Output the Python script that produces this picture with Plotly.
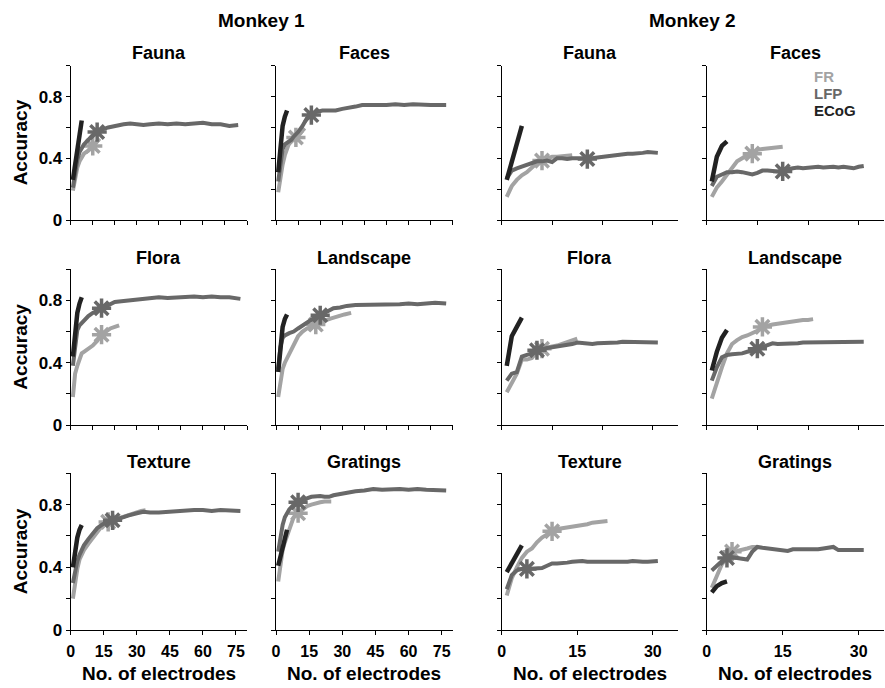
import plotly.graph_objects as go
from plotly.subplots import make_subplots

# ---------------------------------------------------------------------------
# Decoding accuracy vs. number of electrodes (FR, LFP, ECoG) per category
# ---------------------------------------------------------------------------
categories = ["Fauna", "Faces", "Flora", "Landscape", "Texture", "Gratings"]
monkeys = ["Monkey 1", "Monkey 2"]
signals = ["FR", "LFP", "ECoG"]

ecog_x = [1, 2, 3, 4, 5]
ecog_x_m2 = [1, 2, 3, 4]
m2_lfp_x = list(range(1, 32))

# ----- Monkey 1 -----
m1_fauna_ecog = [0.26, 0.355, 0.45, 0.55, 0.645]
m1_fauna_lfp_x = [1, 2, 3, 4, 5, 6, 8, 10, 12, 14, 17, 20, 24, 27, 30, 33, 36, 40, 44, 48, 52, 56, 60, 64, 68, 72, 76]
m1_fauna_lfp = [0.21, 0.32, 0.39, 0.44, 0.47, 0.49, 0.52, 0.55, 0.57, 0.585, 0.60, 0.61, 0.62, 0.625, 0.62, 0.615,
                0.62, 0.625, 0.62, 0.625, 0.62, 0.625, 0.63, 0.62, 0.62, 0.61, 0.615]
m1_fauna_fr_x = [1, 2, 3, 4, 5, 6, 8, 10, 11, 13]
m1_fauna_fr = [0.19, 0.28, 0.34, 0.38, 0.41, 0.43, 0.45, 0.48, 0.49, 0.53]

m1_faces_ecog = [0.31, 0.49, 0.61, 0.67, 0.71]
m1_faces_lfp_x = [1, 2, 3, 4, 5, 6, 7, 8, 10, 12, 13, 14, 16, 18, 21, 24, 27, 30, 33, 36, 39, 42, 46, 50, 54, 58,
                  62, 66, 70, 74, 77]
m1_faces_lfp = [0.25, 0.38, 0.46, 0.49, 0.50, 0.51, 0.52, 0.54, 0.57, 0.61, 0.64, 0.66, 0.68, 0.70, 0.71, 0.71, 0.71,
                0.72, 0.725, 0.735, 0.745, 0.745, 0.74, 0.745, 0.75, 0.745, 0.75, 0.745, 0.745, 0.745, 0.745]
m1_faces_fr_x = [1, 2, 3, 4, 5, 6, 7, 8, 9, 10, 11, 12, 13]
m1_faces_fr = [0.18, 0.28, 0.36, 0.42, 0.47, 0.50, 0.52, 0.53, 0.535, 0.55, 0.56, 0.58, 0.595]

m1_flora_ecog = [0.44, 0.62, 0.72, 0.78, 0.82]
m1_flora_lfp_x = [1, 2, 3, 4, 6, 8, 10, 12, 14, 16, 18, 20, 23, 26, 29, 32, 36, 40, 44, 48, 52, 56, 60, 64, 68, 72, 77]
m1_flora_lfp = [0.38, 0.52, 0.61, 0.64, 0.67, 0.70, 0.72, 0.735, 0.75, 0.765, 0.78, 0.79, 0.795, 0.80, 0.805, 0.81,
                0.815, 0.82, 0.815, 0.82, 0.82, 0.825, 0.82, 0.825, 0.82, 0.82, 0.81]
m1_flora_fr_x = [1, 2, 3, 4, 5, 6, 8, 10, 12, 14, 16, 18, 20, 22]
m1_flora_fr = [0.18, 0.33, 0.38, 0.42, 0.46, 0.47, 0.49, 0.51, 0.54, 0.58, 0.60, 0.62, 0.63, 0.64]

m1_landscape_ecog = [0.34, 0.53, 0.63, 0.68, 0.71]
m1_landscape_lfp_x = [1, 2, 3, 4, 6, 8, 10, 12, 14, 16, 18, 20, 22, 24, 26, 29, 32, 36, 40, 44, 48, 52, 56, 60, 64,
                      68, 72, 77]
m1_landscape_lfp = [0.36, 0.50, 0.56, 0.575, 0.59, 0.60, 0.62, 0.64, 0.66, 0.68, 0.695, 0.705, 0.72, 0.74, 0.75,
                    0.755, 0.765, 0.77, 0.77, 0.775, 0.77, 0.775, 0.775, 0.78, 0.775, 0.78, 0.785, 0.78]
m1_landscape_fr_x = [1, 2, 3, 4, 6, 8, 10, 12, 14, 16, 18, 20, 22, 25, 28, 31, 34]
m1_landscape_fr = [0.18, 0.28, 0.36, 0.40, 0.46, 0.52, 0.57, 0.60, 0.62, 0.63, 0.645, 0.66, 0.67, 0.685, 0.70, 0.71,
                   0.72]

m1_texture_ecog = [0.40, 0.52, 0.59, 0.64, 0.67]
m1_texture_lfp_x = [1, 2, 3, 4, 5, 6, 8, 10, 12, 14, 16, 19, 22, 24, 26, 28, 30, 33, 36, 40, 44, 48, 52, 56, 60, 64,
                    68, 72, 77]
m1_texture_lfp = [0.30, 0.38, 0.44, 0.48, 0.51, 0.54, 0.58, 0.62, 0.65, 0.67, 0.685, 0.70, 0.71, 0.72, 0.73, 0.74,
                  0.745, 0.755, 0.75, 0.75, 0.755, 0.76, 0.76, 0.765, 0.765, 0.76, 0.765, 0.765, 0.76]
m1_texture_fr_x = [1, 2, 3, 4, 6, 8, 10, 12, 14, 17, 20, 23, 26, 29, 32, 34]
m1_texture_fr = [0.20, 0.31, 0.39, 0.45, 0.51, 0.55, 0.59, 0.63, 0.66, 0.69, 0.705, 0.72, 0.73, 0.745, 0.76, 0.765]

m1_gratings_ecog = [0.41, 0.47, 0.53, 0.59, 0.64]
m1_gratings_lfp_x = [1, 2, 3, 4, 5, 6, 8, 10, 12, 14, 16, 18, 20, 22, 24, 26, 28, 30, 33, 36, 40, 44, 48, 52, 56, 60,
                     64, 68, 72, 77]
m1_gratings_lfp = [0.50, 0.60, 0.67, 0.72, 0.75, 0.77, 0.80, 0.815, 0.83, 0.84, 0.85, 0.855, 0.855, 0.85, 0.85, 0.86,
                   0.865, 0.87, 0.88, 0.885, 0.89, 0.90, 0.895, 0.90, 0.90, 0.895, 0.90, 0.895, 0.895, 0.89]
m1_gratings_fr_x = [1, 2, 3, 4, 5, 6, 7, 8, 10, 12, 14, 16, 18, 20, 22, 25]
m1_gratings_fr = [0.31, 0.42, 0.51, 0.56, 0.60, 0.63, 0.67, 0.72, 0.745, 0.765, 0.79, 0.80, 0.81, 0.815, 0.82, 0.82]

# ----- Monkey 2 -----
m2_fauna_ecog = [0.26, 0.38, 0.50, 0.61]
m2_fauna_lfp = [0.27, 0.32, 0.335, 0.345, 0.355, 0.37, 0.38, 0.38, 0.385, 0.375, 0.40, 0.40, 0.395, 0.40, 0.40, 0.395,
                0.395, 0.40, 0.405, 0.41, 0.41, 0.42, 0.425, 0.425, 0.43, 0.43, 0.43, 0.435, 0.44, 0.44, 0.435]
m2_fauna_fr = [0.15, 0.22, 0.26, 0.29, 0.31, 0.34, 0.37, 0.385, 0.40, 0.41, 0.41, 0.415, 0.415, 0.42]

m2_faces_ecog = [0.25, 0.41, 0.48, 0.51]
m2_faces_lfp = [0.22, 0.28, 0.295, 0.31, 0.31, 0.315, 0.31, 0.30, 0.295, 0.305, 0.32, 0.32, 0.315, 0.315, 0.315, 0.33,
                0.335, 0.34, 0.335, 0.34, 0.345, 0.345, 0.34, 0.345, 0.345, 0.34, 0.345, 0.34, 0.335, 0.345, 0.35]
m2_faces_fr = [0.15, 0.21, 0.25, 0.29, 0.34, 0.38, 0.40, 0.42, 0.43, 0.455, 0.46, 0.465, 0.47, 0.475, 0.475]

m2_flora_ecog = [0.38, 0.57, 0.63, 0.69]
m2_flora_lfp = [0.285, 0.33, 0.34, 0.44, 0.45, 0.46, 0.48, 0.49, 0.495, 0.50, 0.505, 0.505, 0.51, 0.52, 0.53, 0.525,
                0.52, 0.52, 0.525, 0.525, 0.525, 0.53, 0.53, 0.535, 0.535, 0.53, 0.53, 0.535, 0.53, 0.53, 0.53]
m2_flora_fr = [0.21, 0.27, 0.33, 0.42, 0.42, 0.43, 0.47, 0.49, 0.50, 0.505, 0.51, 0.52, 0.535, 0.545, 0.555]

m2_landscape_ecog = [0.35, 0.47, 0.56, 0.61]
m2_landscape_lfp = [0.285, 0.37, 0.435, 0.45, 0.455, 0.455, 0.46, 0.47, 0.475, 0.49, 0.50, 0.515, 0.525, 0.52, 0.52,
                    0.52, 0.525, 0.525, 0.53, 0.53, 0.53, 0.53, 0.53, 0.53, 0.53, 0.53, 0.535, 0.53, 0.53, 0.53, 0.535]
m2_landscape_fr = [0.17, 0.28, 0.37, 0.46, 0.52, 0.545, 0.565, 0.575, 0.59, 0.605, 0.63, 0.64, 0.645, 0.65, 0.655,
                   0.665, 0.67, 0.67, 0.675, 0.675, 0.68]

m2_texture_ecog = [0.37, 0.43, 0.49, 0.54]
m2_texture_lfp = [0.26, 0.35, 0.38, 0.39, 0.39, 0.39, 0.39, 0.395, 0.41, 0.425, 0.425, 0.425, 0.43, 0.435, 0.44, 0.44,
                  0.435, 0.435, 0.43, 0.43, 0.43, 0.435, 0.435, 0.435, 0.435, 0.44, 0.435, 0.435, 0.435, 0.44, 0.44]
m2_texture_fr = [0.22, 0.33, 0.40, 0.46, 0.50, 0.52, 0.56, 0.59, 0.61, 0.63, 0.645, 0.65, 0.655, 0.655, 0.66, 0.665,
                 0.675, 0.685, 0.69, 0.695, 0.695]

m2_gratings_ecog = [0.24, 0.28, 0.30, 0.31]
m2_gratings_lfp = [0.38, 0.41, 0.44, 0.46, 0.465, 0.46, 0.455, 0.45, 0.50, 0.53, 0.525, 0.52, 0.52, 0.515, 0.51, 0.505,
                   0.515, 0.515, 0.51, 0.515, 0.515, 0.515, 0.52, 0.525, 0.53, 0.51, 0.51, 0.51, 0.505, 0.51, 0.51]
m2_gratings_fr = [0.27, 0.35, 0.42, 0.46, 0.50, 0.505, 0.51, 0.52, 0.53, 0.53]

# Electrode count at which each curve carries its asterisk: (FR, LFP)
m1_star_x = {"Fauna": (10, 12), "Faces": (9, 16), "Flora": (14, 14),
             "Landscape": (18, 20), "Texture": (17, 19), "Gratings": (10, 10)}
m2_star_x = {"Fauna": (8, 17), "Faces": (9, 15), "Flora": (8, 7),
             "Landscape": (11, 10), "Texture": (10, 5), "Gratings": (5, 4)}

# x-axis settings per monkey
m1_xrange, m1_tick_top, m1_tick_bottom = [0, 80], 10, 15
m2_xrange, m2_tick_top, m2_tick_bottom = [0, 35], 10, 15
y_tickvals = [0, 0.2, 0.4, 0.6, 0.8, 1.0]
y_ticktext = ["0", "", "0.4", "", "0.8", ""]

# ---------------------------------------------------------------------------
colors = {"FR": "#a3a3a3", "LFP": "#686868", "ECoG": "#222222"}
FONT = "Liberation Sans, Arial, sans-serif"
W, H = 885, 688

panels = {
    ("Monkey 1", "Fauna"): (ecog_x, m1_fauna_ecog, m1_fauna_lfp_x, m1_fauna_lfp, m1_fauna_fr_x, m1_fauna_fr),
    ("Monkey 1", "Faces"): (ecog_x, m1_faces_ecog, m1_faces_lfp_x, m1_faces_lfp, m1_faces_fr_x, m1_faces_fr),
    ("Monkey 1", "Flora"): (ecog_x, m1_flora_ecog, m1_flora_lfp_x, m1_flora_lfp, m1_flora_fr_x, m1_flora_fr),
    ("Monkey 1", "Landscape"): (ecog_x, m1_landscape_ecog, m1_landscape_lfp_x, m1_landscape_lfp,
                                m1_landscape_fr_x, m1_landscape_fr),
    ("Monkey 1", "Texture"): (ecog_x, m1_texture_ecog, m1_texture_lfp_x, m1_texture_lfp,
                              m1_texture_fr_x, m1_texture_fr),
    ("Monkey 1", "Gratings"): (ecog_x, m1_gratings_ecog, m1_gratings_lfp_x, m1_gratings_lfp,
                               m1_gratings_fr_x, m1_gratings_fr),
    ("Monkey 2", "Fauna"): (ecog_x_m2, m2_fauna_ecog, m2_lfp_x, m2_fauna_lfp,
                            list(range(1, len(m2_fauna_fr) + 1)), m2_fauna_fr),
    ("Monkey 2", "Faces"): (ecog_x_m2, m2_faces_ecog, m2_lfp_x, m2_faces_lfp,
                            list(range(1, len(m2_faces_fr) + 1)), m2_faces_fr),
    ("Monkey 2", "Flora"): (ecog_x_m2, m2_flora_ecog, m2_lfp_x, m2_flora_lfp,
                            list(range(1, len(m2_flora_fr) + 1)), m2_flora_fr),
    ("Monkey 2", "Landscape"): (ecog_x_m2, m2_landscape_ecog, m2_lfp_x, m2_landscape_lfp,
                                list(range(1, len(m2_landscape_fr) + 1)), m2_landscape_fr),
    ("Monkey 2", "Texture"): (ecog_x_m2, m2_texture_ecog, m2_lfp_x, m2_texture_lfp,
                              list(range(1, len(m2_texture_fr) + 1)), m2_texture_fr),
    ("Monkey 2", "Gratings"): (ecog_x_m2, m2_gratings_ecog, m2_lfp_x, m2_gratings_lfp,
                               list(range(1, len(m2_gratings_fr) + 1)), m2_gratings_fr),
}

# panel placement in pixels
col_px = [(70.7, 247.0), (276.0, 452.8), (501.7, 678.0), (706.7, 884.0)]
row_px = [(65.7, 220.0), (269.3, 425.0), (473.3, 630.0)]


def px_x(v):
    return v / W


def px_y(v):
    return 1 - v / H


fig = make_subplots(rows=3, cols=4)


def star_trace(xs, ys, sx, color, row, col):
    sy = ys[xs.index(sx)]
    fig.add_trace(go.Scatter(x=[sx], y=[sy], mode="markers", showlegend=False, hoverinfo="skip",
                             marker=dict(symbol="circle", size=8, color=color, line=dict(width=0))),
                  row=row, col=col)
    fig.add_trace(go.Scatter(x=[sx], y=[sy], mode="markers", showlegend=False, hoverinfo="skip",
                             marker=dict(symbol="asterisk-open", size=16, color=color,
                                         line=dict(width=3.5, color=color))),
                  row=row, col=col)


for mi, monkey in enumerate(monkeys):
    for ci, cat in enumerate(categories):
        row = ci // 2 + 1
        col = mi * 2 + ci % 2 + 1
        ex, ey, lx, ly, fx, fy = panels[(monkey, cat)]
        fr_sx, lfp_sx = (m1_star_x if mi == 0 else m2_star_x)[cat]

        fig.add_trace(go.Scatter(x=fx, y=fy, mode="lines", showlegend=False, hoverinfo="skip",
                                 line=dict(color=colors["FR"], width=4)), row=row, col=col)
        star_trace(fx, fy, fr_sx, colors["FR"], row, col)
        fig.add_trace(go.Scatter(x=lx, y=ly, mode="lines", showlegend=False, hoverinfo="skip",
                                 line=dict(color=colors["LFP"], width=4)), row=row, col=col)
        star_trace(lx, ly, lfp_sx, colors["LFP"], row, col)
        fig.add_trace(go.Scatter(x=ex, y=ey, mode="lines", showlegend=False, hoverinfo="skip",
                                 line=dict(color=colors["ECoG"], width=4.5)), row=row, col=col)

        # axes
        xr = m1_xrange if mi == 0 else m2_xrange
        bottom = row == 3
        dt = (m1_tick_bottom if mi == 0 else m2_tick_bottom) if bottom else \
            (m1_tick_top if mi == 0 else m2_tick_top)
        x0, x1 = col_px[col - 1]
        y0, y1 = row_px[row - 1]
        fig.update_xaxes(domain=[px_x(x0), px_x(x1)], range=xr, tick0=0, dtick=dt,
                         showticklabels=bottom, ticks="outside", ticklen=4, tickwidth=1,
                         tickcolor="black", showline=True, linecolor="black", linewidth=1,
                         showgrid=False, zeroline=False, ticklabelstandoff=3, automargin=False,
                         tickfont=dict(family=FONT, size=16, color="black", weight="bold"),
                         row=row, col=col)
        fig.update_yaxes(domain=[px_y(y1), px_y(y0)], range=[0, 1], tickvals=y_tickvals,
                         ticktext=y_ticktext, showticklabels=(col == 1), ticks="outside",
                         ticklen=4, tickwidth=1, tickcolor="black", showline=True,
                         linecolor="black", linewidth=1, showgrid=False, zeroline=False,
                         automargin=False,
                         tickfont=dict(family=FONT, size=17, color="black", weight="bold"),
                         row=row, col=col)

annotations = []


def text(s, x, y, size, color="black", xanchor="center", angle=0):
    annotations.append(dict(text=s, x=px_x(x), y=px_y(y), xref="paper", yref="paper",
                            showarrow=False, xanchor=xanchor, yanchor="middle", textangle=angle,
                            font=dict(family=FONT, size=size, color=color, weight="bold")))


# monkey headings
text(monkeys[0], (col_px[0][0] + col_px[1][1]) / 2, 20, 19)
text(monkeys[1], (col_px[2][0] + col_px[3][1]) / 2, 20, 19)

# panel titles
title_y = [53, 258, 462]
for mi in range(2):
    for ci, cat in enumerate(categories):
        row = ci // 2
        col = mi * 2 + ci % 2
        text(cat, sum(col_px[col]) / 2, title_y[row], 18)

# axis titles
for r in range(3):
    text("Accuracy", 20.5, sum(row_px[r]) / 2, 19, angle=-90)
for c in range(4):
    text("No. of electrodes", sum(col_px[c]) / 2, 673, 19)

# signal key
for name, ypos in zip(signals, [77, 93, 110]):
    text(name, 811.7, ypos, 15, color=colors[name], xanchor="left")

fig.update_layout(width=W, height=H, margin=dict(l=0, r=0, t=0, b=0),
                  paper_bgcolor="white", plot_bgcolor="white", showlegend=False,
                  annotations=annotations)

fig.write_html("out.html")
